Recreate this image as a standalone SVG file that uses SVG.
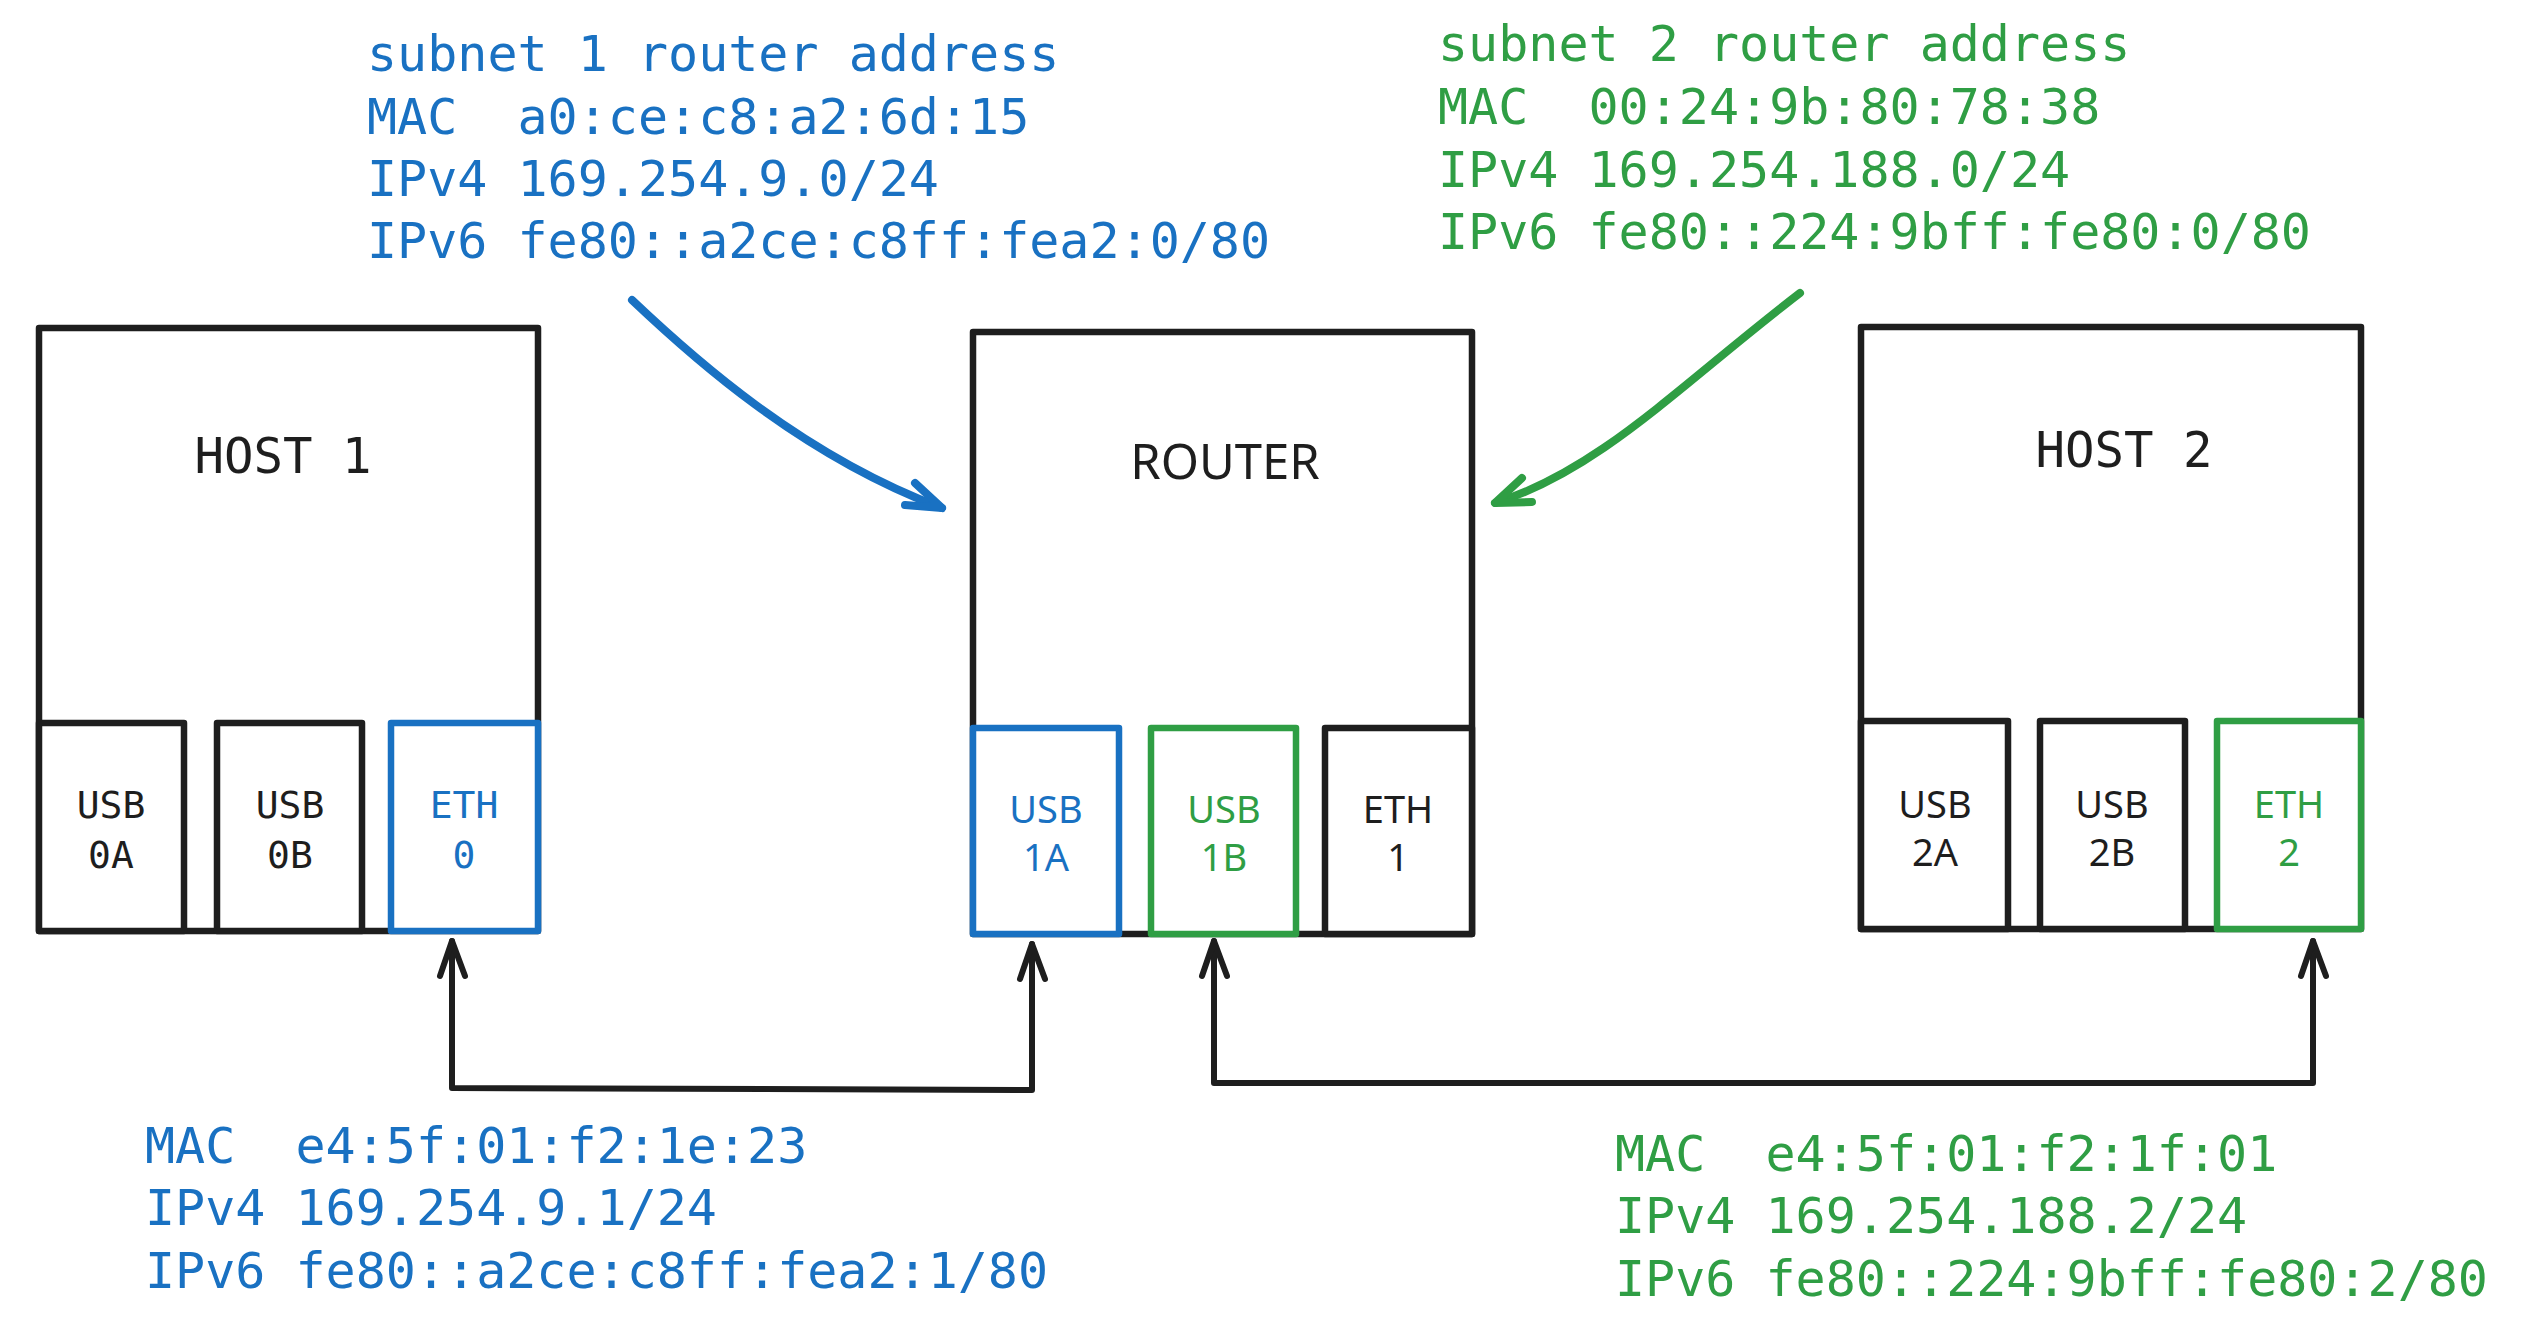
<svg xmlns="http://www.w3.org/2000/svg" width="2525" height="1325" viewBox="0 0 2525 1325">
<style>
.box{fill:#fff;stroke:#1e1e1e;stroke-width:6.5;stroke-linejoin:round}
.pk{fill:#fff;stroke:#1e1e1e;stroke-width:6.5;stroke-linejoin:round}
.pb{fill:#fff;stroke:#1971c2;stroke-width:6.5;stroke-linejoin:round}
.pg{fill:#fff;stroke:#2f9e44;stroke-width:6.5;stroke-linejoin:round}
.mono{font-family:"DejaVu Sans Mono","Liberation Mono",monospace}
.sans{font-family:"Noto Sans","Liberation Sans",sans-serif}
.title{font-size:49px;fill:#1e1e1e;text-anchor:middle}
.port{font-size:38px;text-anchor:middle}
.k{fill:#1e1e1e}.b{fill:#1971c2}.g{fill:#2f9e44}
.addr{font-family:"DejaVu Sans Mono","Liberation Mono",monospace;font-size:50px}
.conn{fill:none;stroke:#1e1e1e;stroke-width:6;stroke-linecap:round;stroke-linejoin:round}
.cb{fill:none;stroke:#1971c2;stroke-width:8;stroke-linecap:round;stroke-linejoin:round}
.cg{fill:none;stroke:#2f9e44;stroke-width:8;stroke-linecap:round;stroke-linejoin:round}
</style>
<rect width="2525" height="1325" fill="#fff"/>

<g id="host1">
<rect class="box" x="39" y="328" width="499" height="603"/>
<text class="mono title" x="283" y="473">HOST 1</text>
<rect class="pk" x="39" y="723" width="145" height="208"/>
<text class="mono port k" x="111" y="818">USB</text>
<text class="mono port k" x="111" y="868">0A</text>
<rect class="pk" x="217" y="723" width="145" height="208"/>
<text class="mono port k" x="290" y="818">USB</text>
<text class="mono port k" x="290" y="868">0B</text>
<rect class="pb" x="391" y="723" width="147" height="208"/>
<text class="mono port b" x="464" y="818">ETH</text>
<text class="mono port b" x="464" y="868">0</text>
</g>

<g id="router">
<rect class="box" x="973" y="332" width="499" height="602"/>
<text class="sans title" x="1225" y="479" font-size="48">ROUTER</text>
<rect class="pb" x="973" y="728" width="146" height="206"/>
<text class="sans port b" x="1046" y="823">USB</text>
<text class="sans port b" x="1046" y="871">1A</text>
<rect class="pg" x="1151" y="728" width="145" height="206"/>
<text class="sans port g" x="1224" y="823">USB</text>
<text class="sans port g" x="1224" y="871">1B</text>
<rect class="pk" x="1325" y="728" width="147" height="206"/>
<text class="sans port k" x="1398" y="823">ETH</text>
<text class="sans port k" x="1398" y="871">1</text>
</g>

<g id="host2">
<rect class="box" x="1861" y="327" width="500" height="602"/>
<text class="mono title" x="2124" y="467">HOST 2</text>
<rect class="pk" x="1861" y="721" width="147" height="208"/>
<text class="sans port k" x="1935" y="818">USB</text>
<text class="sans port k" x="1935" y="866">2A</text>
<rect class="pk" x="2040" y="721" width="145" height="208"/>
<text class="sans port k" x="2112" y="818">USB</text>
<text class="sans port k" x="2112" y="866">2B</text>
<rect class="pg" x="2217" y="721" width="144" height="208"/>
<text class="sans port g" x="2289" y="818">ETH</text>
<text class="sans port g" x="2289" y="866">2</text>
</g>

<g id="label-subnet1">
<text class="addr b" x="367" y="71">subnet 1 router address</text>
<text class="addr b" x="367" y="134" xml:space="preserve">MAC  a0:ce:c8:a2:6d:15</text>
<text class="addr b" x="367" y="196">IPv4 169.254.9.0/24</text>
<text class="addr b" x="367" y="258">IPv6 fe80::a2ce:c8ff:fea2:0/80</text>
</g>
<g id="label-subnet2">
<text class="addr g" x="1438" y="61">subnet 2 router address</text>
<text class="addr g" x="1438" y="124" xml:space="preserve">MAC  00:24:9b:80:78:38</text>
<text class="addr g" x="1438" y="187">IPv4 169.254.188.0/24</text>
<text class="addr g" x="1438" y="249">IPv6 fe80::224:9bff:fe80:0/80</text>
</g>
<g id="label-host1">
<text class="addr b" x="145" y="1163" xml:space="preserve">MAC  e4:5f:01:f2:1e:23</text>
<text class="addr b" x="145" y="1225">IPv4 169.254.9.1/24</text>
<text class="addr b" x="145" y="1288">IPv6 fe80::a2ce:c8ff:fea2:1/80</text>
</g>
<g id="label-host2">
<text class="addr g" x="1615" y="1171" xml:space="preserve">MAC  e4:5f:01:f2:1f:01</text>
<text class="addr g" x="1615" y="1233">IPv4 169.254.188.2/24</text>
<text class="addr g" x="1615" y="1296">IPv6 fe80::224:9bff:fe80:2/80</text>
</g>

<g id="connectors">
<path class="conn" d="M452,941 L452,1088 L1032,1090 L1032,944"/>
<path class="conn" d="M440,976 L452,941 L465,976"/>
<path class="conn" d="M1020,979 L1032,944 L1045,979"/>
<path class="conn" d="M1214,941 L1214,1083 L2313,1083 L2313,941"/>
<path class="conn" d="M1202,976 L1214,941 L1227,976"/>
<path class="conn" d="M2301,976 L2313,941 L2326,976"/>
<path class="cb" d="M632,300 C690,355 800,455 942,508"/>
<path class="cb" d="M915,483 L942,508 L905,505"/>
<path class="cg" d="M1800,293 C1680,385 1600,470 1495,503"/>
<path class="cg" d="M1522,478 L1495,503 L1532,502"/>
</g>
</svg>
